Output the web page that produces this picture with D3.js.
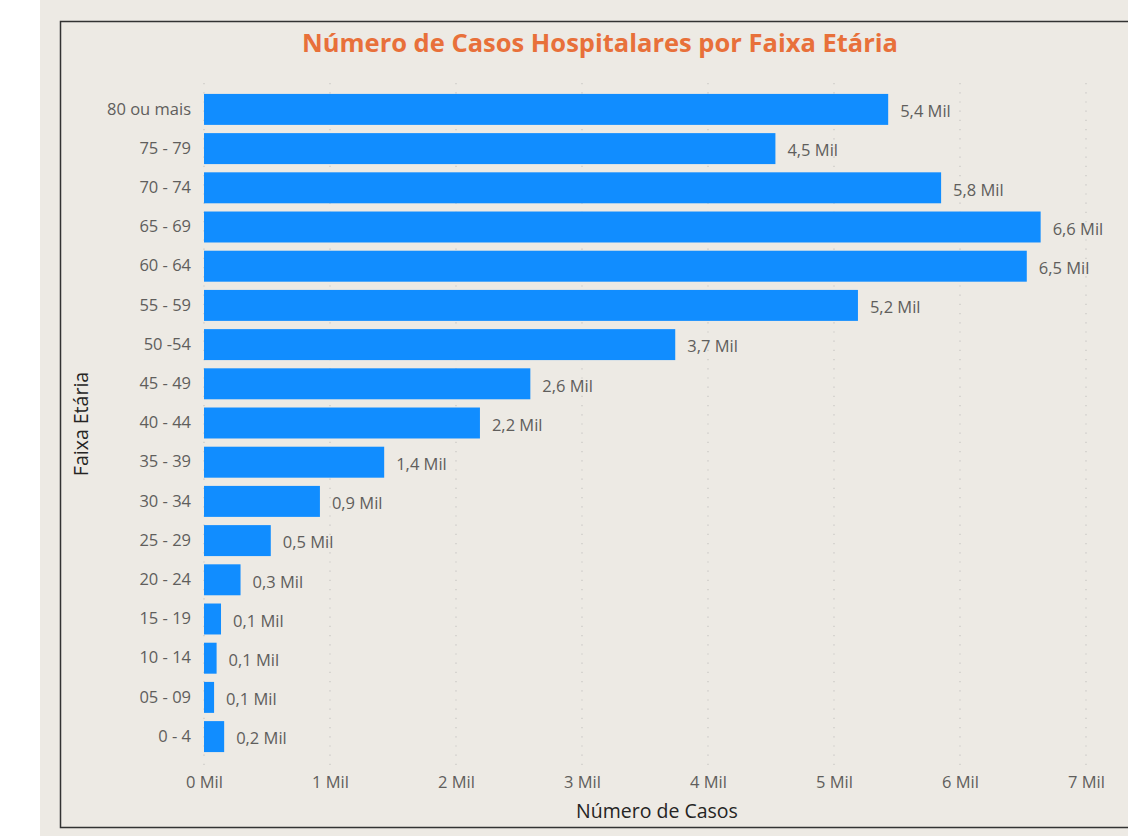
<!DOCTYPE html>
<html>
<head>
<meta charset="utf-8">
<script src="https://cdn.jsdelivr.net/npm/d3@7"></script>
<style>
  body { margin: 0; background: #fff; }
  svg { display: block; font-family: "Open Sans", "Noto Sans", sans-serif; }
</style>
</head>
<body>
<svg width="1128" height="836"></svg>
<script>
// faixas etarias, de cima para baixo
var faixas = ["80 ou mais","75 - 79","70 - 74","65 - 69","60 - 64","55 - 59","50 -54","45 - 49",
  "40 - 44","35 - 39","30 - 34","25 - 29","20 - 24","15 - 19","10 - 14","05 - 09","0 - 4"];
var casos = [5430,4535,5850,6640,6530,5190,3740,2590,2190,1430,920,530,290,135,100,80,160];
var ticks = [0,1000,2000,3000,4000,5000,6000,7000];

var svg = d3.select("svg");
var pt = d3.formatLocale({decimal: ",", thousands: ".", grouping: [3], currency: ["R$", ""]});
var fmt1 = pt.format(".1f");
var mil = function(d) { return fmt1(d / 1000) + " Mil"; };
var milTick = function(d) { return (d / 1000) + " Mil"; };

// fundo e moldura
svg.append("rect").attr("x", 40).attr("y", 0).attr("width", 1088).attr("height", 836).style("fill", "#edeae4");
svg.append("rect").attr("x", 60.5).attr("y", 21.5).attr("width", 1080).attr("height", 806)
  .style("fill", "none").style("stroke", "#333").style("stroke-width", 1.5);

var x = d3.scaleLinear().domain([0, 7000]).range([204, 1086]);
var y = d3.scaleBand().domain(faixas).range([90, 756]).paddingInner(0.21).paddingOuter(0.1);

// grade pontilhada
svg.selectAll("line.grid").data(ticks).enter().append("line")
  .attr("class", "grid")
  .attr("x1", function(d) { return x(d); })
  .attr("x2", function(d) { return x(d); })
  .attr("y1", 83).attr("y2", 768)
  .style("stroke", "#c8c6c4").style("stroke-width", 1.2).style("stroke-dasharray", "1.2,8");

// barras
svg.selectAll("rect.bar").data(casos).enter().append("rect")
  .attr("class", "bar")
  .attr("x", x(0))
  .attr("y", function(d, i) { return y(faixas[i]); })
  .attr("width", function(d) { return x(d) - x(0); })
  .attr("height", y.bandwidth())
  .style("fill", "#118dff");

// rotulos de dados
svg.selectAll("text.lbl").data(casos).enter().append("text")
  .attr("class", "lbl")
  .attr("x", function(d) { return x(d) + 12; })
  .attr("y", function(d, i) { return y(faixas[i]) + y.bandwidth() / 2 + 2; })
  .attr("dy", "0.35em")
  .text(mil)
  .style("font-size", "16.5px").style("fill", "#605e5c");

// eixo y
var yAxis = svg.append("g").attr("transform", "translate(" + x(0) + ",0)")
  .call(d3.axisLeft(y).tickSize(0).tickPadding(13));
yAxis.attr("font-family", null).attr("font-size", null);
yAxis.select(".domain").remove();
yAxis.selectAll("text").style("font-size", "16.5px").style("fill", "#605e5c");

// eixo x
var xAxis = svg.append("g").attr("transform", "translate(0,772)")
  .call(d3.axisBottom(x).tickValues(ticks).tickFormat(milTick).tickSize(0).tickPadding(4));
xAxis.attr("font-family", null).attr("font-size", null);
xAxis.select(".domain").remove();
xAxis.selectAll("text").style("font-size", "16.5px").style("fill", "#605e5c");

// titulos
svg.append("text").attr("x", 600).attr("y", 52).attr("text-anchor", "middle")
  .text("Número de Casos Hospitalares por Faixa Etária")
  .style("font-size", "25.5px").style("font-weight", "bold").style("fill", "#e8703a");

svg.append("text").attr("x", 657).attr("y", 818).attr("text-anchor", "middle")
  .text("Número de Casos")
  .style("font-size", "19.5px").style("fill", "#252423");

svg.append("text").attr("transform", "translate(88,424) rotate(-90)").attr("text-anchor", "middle")
  .text("Faixa Etária")
  .style("font-size", "19.5px").style("fill", "#252423");
</script>
</body>
</html>
